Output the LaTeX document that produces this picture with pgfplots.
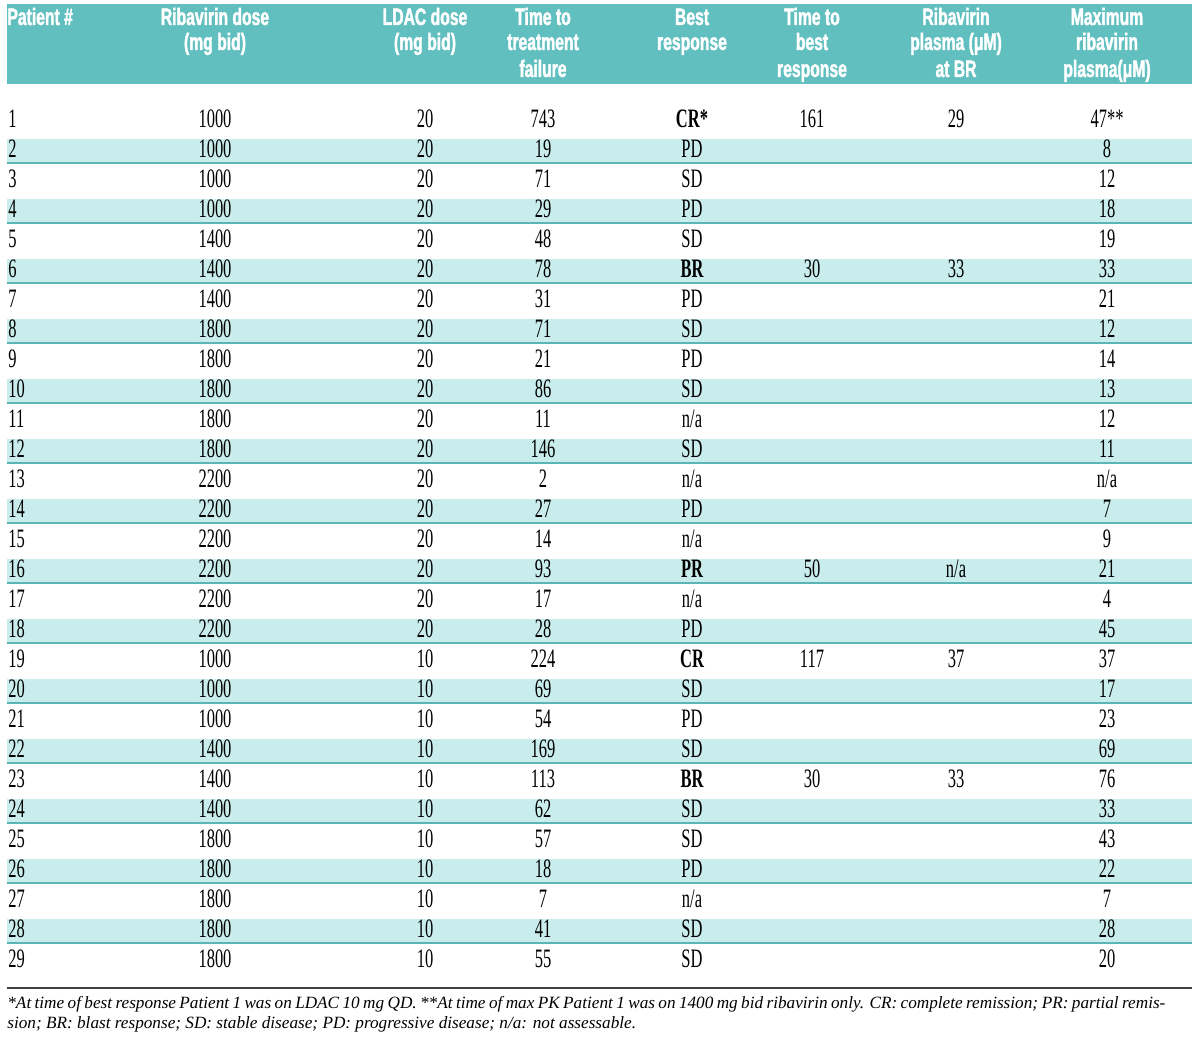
\documentclass[border=0pt]{standalone}
\usepackage{pgfplots}
\pgfplotsset{compat=1.18}
\usepackage{pgfplotstable}
\usepackage{fontspec}
\setmainfont{Liberation Serif}
\newfontfamily\bodyfont[FakeStretch=0.62]{Liberation Serif}
\newfontfamily\hdfont[FakeStretch=0.66, FakeBold=1.6]{Liberation Sans}
\newfontfamily\notefont{Liberation Serif}
\definecolor{hdteal}{HTML}{62BFBF}
\definecolor{stripe}{HTML}{C9ECEC}
\definecolor{rowline}{HTML}{5BB5B5}
\newcommand\B[1]{{\bfseries #1}}

\pgfplotstableread{
p rib ldac ttf best max
1 1000 20 743 \B{CR*} 47**
2 1000 20 19 PD 8
3 1000 20 71 SD 12
4 1000 20 29 PD 18
5 1400 20 48 SD 19
6 1400 20 78 \B{BR} 33
7 1400 20 31 PD 21
8 1800 20 71 SD 12
9 1800 20 21 PD 14
10 1800 20 86 SD 13
11 1800 20 11 n/a 12
12 1800 20 146 SD 11
13 2200 20 2 n/a n/a
14 2200 20 27 PD 7
15 2200 20 14 n/a 9
16 2200 20 93 \B{PR} 21
17 2200 20 17 n/a 4
18 2200 20 28 PD 45
19 1000 10 224 \B{CR} 37
20 1000 10 69 SD 17
21 1000 10 54 PD 23
22 1400 10 169 SD 69
23 1400 10 113 \B{BR} 76
24 1400 10 62 SD 33
25 1800 10 57 SD 43
26 1800 10 18 PD 22
27 1800 10 7 n/a 7
28 1800 10 41 SD 28
29 1800 10 55 SD 20
}\maintable

\pgfplotstableread{
p ttb plasma
1 161 29
6 30 33
16 50 n/a
19 117 37
23 30 33
}\sparsetable

\pgfplotsset{
  cell/.style={only marks, mark=none, nodes near coords,
    point meta=explicit symbolic,
    nodes near coords align={anchor=center},
    every node near coord/.append style={font=\bodyfont\fontsize{13.3}{15}\selectfont,
      text=black, inner sep=0pt, anchor=center}},
}

\begin{document}
\begin{tikzpicture}
\begin{axis}[
  scale only axis, width=600pt, height=519pt,
  xmin=0, xmax=1200, ymin=0, ymax=1038, y dir=reverse,
  hide axis, clip=false,
]
\path (rel axis cs:0,0) rectangle (rel axis cs:1,1);
% header band
\fill[hdteal] (axis cs:7,4) rectangle (axis cs:1192,84);
% stripes
\pgfplotsinvokeforeach{1,...,14}{
  \fill[stripe] (axis cs:7,{119+30*(2*#1-1)-10}) rectangle (axis cs:1192,{119+30*(2*#1-1)+14});
  \draw[rowline, line width=0.75pt] (axis cs:7,{119+30*(2*#1-1)+14}) -- (axis cs:1192,{119+30*(2*#1-1)+14});
}
% header text
\begin{scope}[every node/.style={font=\hdfont\bfseries\fontsize{11.9}{13}\selectfont, text=white, inner sep=0pt, anchor=base}]
\node[anchor=base west] at (axis cs:7,25) {Patient \#};
\node at (axis cs:215,25) {Ribavirin dose};
\node at (axis cs:215,50) {(mg bid)};
\node at (axis cs:425,25) {LDAC dose};
\node at (axis cs:425,50) {(mg bid)};
\node at (axis cs:543,25) {Time to};
\node at (axis cs:543,50) {treatment};
\node at (axis cs:543,77) {failure};
\node at (axis cs:692,25) {Best};
\node at (axis cs:692,50) {response};
\node at (axis cs:812,25) {Time to};
\node at (axis cs:812,50) {best};
\node at (axis cs:812,77) {response};
\node at (axis cs:956,25) {Ribavirin};
\node at (axis cs:956,50) {plasma (μM)};
\node at (axis cs:956,77) {at BR};
\node at (axis cs:1107,25) {Maximum};
\node at (axis cs:1107,50) {ribavirin};
\node at (axis cs:1107,77) {plasma(μM)};
\end{scope}
% body cells
\addplot[cell, every node near coord/.append style={anchor=west}, nodes near coords align={anchor=west}]
  table[x expr=8, y expr=119+30*(\thisrow{p}-1), meta=p] {\maintable};
\addplot[cell] table[x expr=215, y expr=119+30*(\thisrow{p}-1), meta=rib] {\maintable};
\addplot[cell] table[x expr=425, y expr=119+30*(\thisrow{p}-1), meta=ldac] {\maintable};
\addplot[cell] table[x expr=543, y expr=119+30*(\thisrow{p}-1), meta=ttf] {\maintable};
\addplot[cell] table[x expr=692, y expr=119+30*(\thisrow{p}-1), meta=best] {\maintable};
\addplot[cell] table[x expr=1107, y expr=119+30*(\thisrow{p}-1), meta=max] {\maintable};
\addplot[cell] table[x expr=812, y expr=119+30*(\thisrow{p}-1), meta=ttb] {\sparsetable};
\addplot[cell] table[x expr=956, y expr=119+30*(\thisrow{p}-1), meta=plasma] {\sparsetable};
% footnote
\draw[black!75, line width=0.6pt] (axis cs:7,988) -- (axis cs:1192,988);
\node[anchor=base west, inner sep=0pt, font=\notefont\itshape\fontsize{8.6}{11}\selectfont] at (axis cs:7,1008)
 {\hbox to 579pt{*At time of best response Patient 1 was on LDAC 10 mg QD. **At time of max PK Patient 1 was on 1400 mg bid ribavirin only. CR: complete remission; PR: partial remis-}};
\node[anchor=base west, inner sep=0pt, font=\notefont\itshape\fontsize{8.6}{11}\selectfont] at (axis cs:7,1028)
 {sion; BR: blast response; SD: stable disease; PD: progressive disease; n/a: not assessable.};
\end{axis}
\end{tikzpicture}
\end{document}
